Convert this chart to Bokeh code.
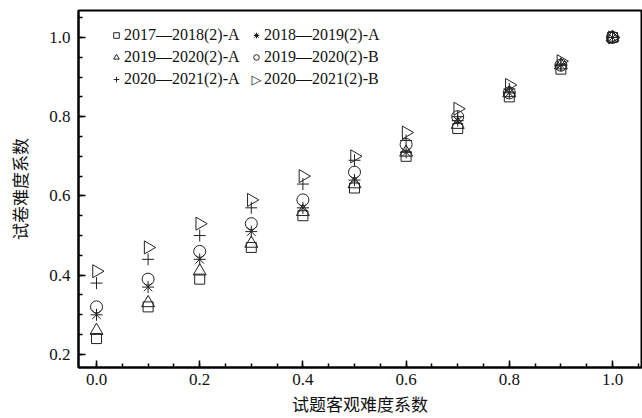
import math
from bokeh.plotting import figure
from bokeh.models import Range1d, SingleIntervalTicker, Legend, LegendItem, Label, NumeralTickFormatter
from bokeh.embed import file_html
from bokeh.resources import INLINE

x_vals = [0.0, 0.1, 0.2, 0.3, 0.4, 0.5, 0.6, 0.7, 0.8, 0.9, 1.0]
s_2017_2018_A = [0.24, 0.32, 0.39, 0.47, 0.55, 0.62, 0.70, 0.77, 0.85, 0.92, 1.0]
s_2018_2019_A = [0.30, 0.37, 0.44, 0.51, 0.57, 0.64, 0.71, 0.79, 0.86, 0.93, 1.0]
s_2019_2020_A = [0.26, 0.33, 0.41, 0.48, 0.56, 0.63, 0.71, 0.78, 0.86, 0.93, 1.0]
s_2019_2020_B = [0.32, 0.39, 0.46, 0.53, 0.59, 0.66, 0.73, 0.80, 0.86, 0.93, 1.0]
s_2020_2021_A = [0.38, 0.44, 0.50, 0.57, 0.63, 0.69, 0.74, 0.80, 0.87, 0.93, 1.0]
s_2020_2021_B = [0.41, 0.47, 0.53, 0.59, 0.65, 0.70, 0.76, 0.82, 0.88, 0.94, 1.0]

labels = ["2017—2018(2)-A", "2018—2019(2)-A", "2019—2020(2)-A",
          "2019—2020(2)-B", "2020—2021(2)-A", "2020—2021(2)-B"]

p = figure(width=642, height=418, output_backend="svg", toolbar_location=None,
           x_range=Range1d(-0.0349, 1.0562), y_range=Range1d(0.167, 1.068),
           min_border_left=78, min_border_top=10, min_border_right=1, min_border_bottom=50)
p.xgrid.visible = False
p.ygrid.visible = False
p.outline_line_color = "black"
p.outline_line_width = 2

col = "#222222"
common = dict(fill_color=None, line_color=col, line_width=1)
r1 = p.scatter(x_vals, s_2017_2018_A, marker="square", size=10, **common)
r2 = p.scatter(x_vals, s_2018_2019_A, marker="asterisk", size=12, **common)
r3 = p.scatter(x_vals, s_2019_2020_A, marker="triangle", size=13, **common)
r4 = p.scatter(x_vals, s_2019_2020_B, marker="circle", size=12, **common)
r5 = p.scatter(x_vals, s_2020_2021_A, marker="cross", size=12, **common)
r6 = p.scatter(x_vals, s_2020_2021_B, marker="triangle", size=13, angle=-math.pi / 2, **common)
# invisible stand-in for the right-pointing triangle in the legend (drawn with a label)
r6_leg = p.scatter([], [], marker="triangle", size=1, line_alpha=0, fill_alpha=0)

leg_style = dict(border_line_color=None, background_fill_alpha=0,
                 label_text_font="Liberation Serif", label_text_font_size="16px",
                 label_text_color="#111111", glyph_width=14, glyph_height=22,
                 label_height=22, label_standoff=1, spacing=0, padding=0, margin=0)
legend1 = Legend(items=[LegendItem(label=labels[0], renderers=[r1]),
                        LegendItem(label=labels[2], renderers=[r3]),
                        LegendItem(label=labels[4], renderers=[r5])],
                 location=(31, 277), **leg_style)
legend2 = Legend(items=[LegendItem(label=labels[1], renderers=[r2]),
                        LegendItem(label=labels[3], renderers=[r4]),
                        LegendItem(label=labels[5], renderers=[r6_leg])],
                 location=(171, 277), **leg_style)
p.add_layout(legend1)
p.add_layout(legend2)
p.add_layout(Label(x=178, y=288, x_units="screen", y_units="screen", text="▷",
                   text_font="DejaVu Sans", text_font_size="13px", text_color=col,
                   text_align="center", text_baseline="middle"))

for ax in (p.xaxis, p.yaxis):
    ax.axis_line_width = 2
    ax.axis_line_color = "black"
    ax.major_tick_in = 7
    ax.major_tick_out = 0
    ax.minor_tick_in = 4
    ax.minor_tick_out = 0
    ax.major_tick_line_width = 1.5
    ax.minor_tick_line_width = 1.5
    ax.major_label_text_font = "Liberation Serif"
    ax.major_label_text_font_size = "17px"
    ax.major_label_text_color = "#111111"
    ax.axis_label_text_font = "Noto Sans CJK SC"
    ax.axis_label_text_font_size = "17px"
    ax.axis_label_text_font_style = "normal"
    ax.axis_label_text_color = "#111111"

p.xaxis.ticker = SingleIntervalTicker(interval=0.2, num_minor_ticks=4)
p.yaxis.ticker = SingleIntervalTicker(interval=0.2, num_minor_ticks=4)
p.xaxis.formatter = NumeralTickFormatter(format="0.0")
p.yaxis.formatter = NumeralTickFormatter(format="0.0")
p.xaxis.axis_label = "试题客观难度系数"
p.yaxis.axis_label = "试卷难度系数"
p.xaxis.major_label_standoff = 6
p.xaxis.axis_label_standoff = 3
p.yaxis.major_label_standoff = 8
p.yaxis.axis_label_standoff = 14

open("out.html", "w").write(file_html(p, INLINE))
